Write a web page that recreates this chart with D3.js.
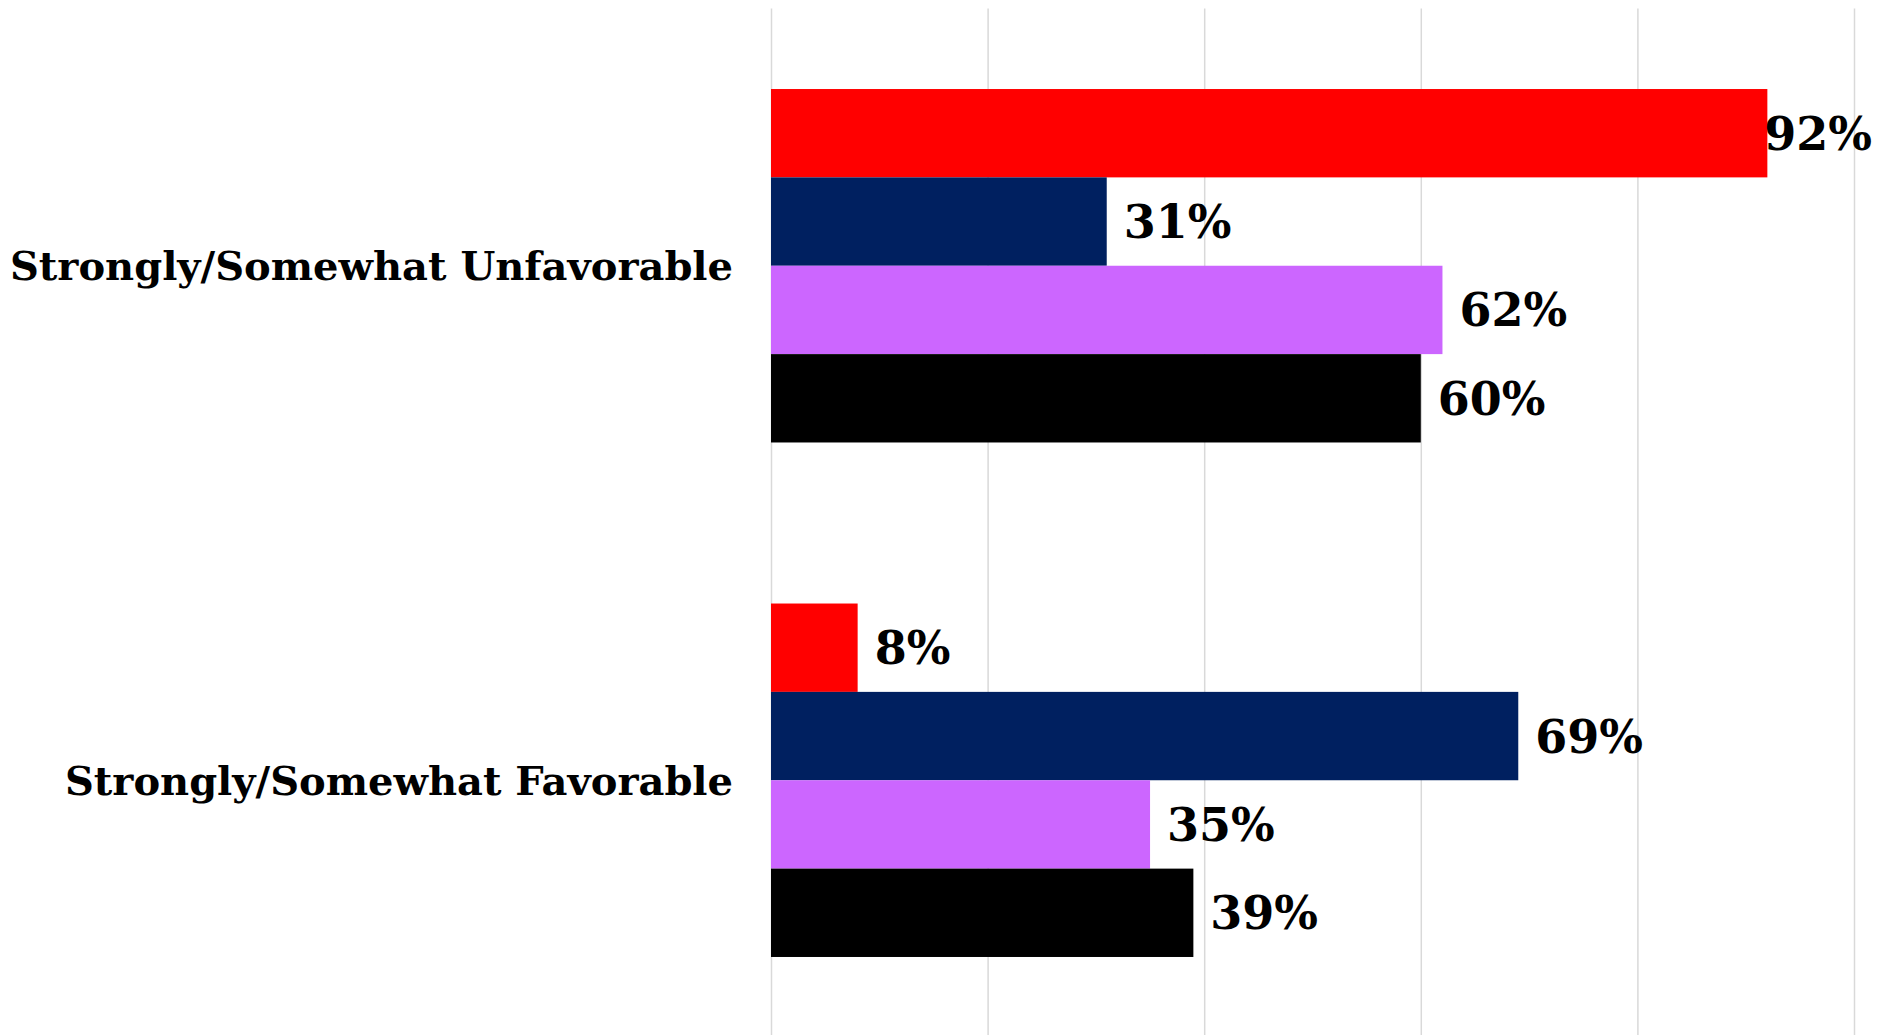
<!DOCTYPE html>
<html>
<head>
<meta charset="utf-8">
<script src="https://cdn.jsdelivr.net/npm/d3@7"></script>
<style>
  html, body { margin: 0; padding: 0; background: #fff; }
  svg { display: block; }
</style>
</head>
<body>
<div id="chart"></div>
<script>
const categories = ["Strongly/Somewhat Unfavorable", "Strongly/Somewhat Favorable"];
const seriesNames = ["Republicans", "Democrats", "Independents", "Total"];
const seriesColors = ["#ff0000", "#002060", "#cc66ff", "#000000"];
const unfavorableValues = [0.92, 0.31, 0.62, 0.60];
const favorableValues = [0.08, 0.69, 0.35, 0.39];
const gridTicks = [0, 0.2, 0.4, 0.6, 0.8, 1.0];

const width = 1878;
const height = 1035;
const plot = { left: 771, right: 1854, top: 8.5, bottom: 1037.5 };
const fontFamily = "'DejaVu Serif', Georgia, serif";

const valuesByCat = [unfavorableValues, favorableValues];
const data = categories.flatMap((cat, ci) =>
    seriesNames.map((s, si) => ({ category: cat, series: s, value: valuesByCat[ci][si], color: seriesColors[si] }))
);

const svg = d3.select("#chart")
    .append("svg")
    .attr("width", width)
    .attr("height", height)
    .attr("viewBox", [0, 0, width, height]);

const x = d3.scaleLinear()
    .domain([0, 1])
    .range([plot.left, plot.right]);

const y = d3.scaleBand()
    .domain(categories)
    .range([plot.top, plot.bottom])
    .paddingInner(0.313)
    .paddingOuter(0.1565);

const ySub = d3.scaleBand()
    .domain(seriesNames)
    .range([0, y.bandwidth()]);

// vertical gridlines
svg.append("g")
    .attr("transform", `translate(0,${plot.top})`)
    .call(d3.axisBottom(x).tickValues(gridTicks).tickSize(plot.bottom - plot.top).tickFormat(""))
    .call(g => g.select(".domain").remove())
    .call(g => g.selectAll(".tick line")
        .attr("stroke", "#d9d9d9")
        .attr("stroke-width", 1.5));

// bars
svg.append("g")
    .selectAll("rect")
    .data(data)
    .join("rect")
    .attr("x", x(0))
    .attr("y", d => y(d.category) + ySub(d.series))
    .attr("width", d => x(d.value) - x(0))
    .attr("height", ySub.bandwidth())
    .attr("fill", d => d.color);

// value labels
const labels = svg.append("g")
    .selectAll("text")
    .data(data)
    .join("text")
    .attr("y", d => y(d.category) + ySub(d.series) + ySub.bandwidth() / 2)
    .attr("dy", "0.36em")
    .attr("font-family", fontFamily)
    .attr("font-weight", "bold")
    .attr("font-size", 46)
    .attr("fill", "#000")
    .text(d => Math.round(d.value * 100) + "%");

// keep labels inside the chart, like Excel does
labels.each(function (d) {
    const w = this.getComputedTextLength();
    const xs = Math.min(x(d.value) + 17, width - 6 - w);
    d3.select(this).attr("x", xs);
});

// category labels
svg.append("g")
    .selectAll("text")
    .data(categories)
    .join("text")
    .attr("x", 733)
    .attr("y", d => y(d) + y.bandwidth() / 2)
    .attr("dy", "0.36em")
    .attr("text-anchor", "end")
    .attr("font-family", fontFamily)
    .attr("font-weight", "bold")
    .attr("font-size", 40)
    .attr("fill", "#000")
    .text(d => d);
</script>
</body>
</html>
